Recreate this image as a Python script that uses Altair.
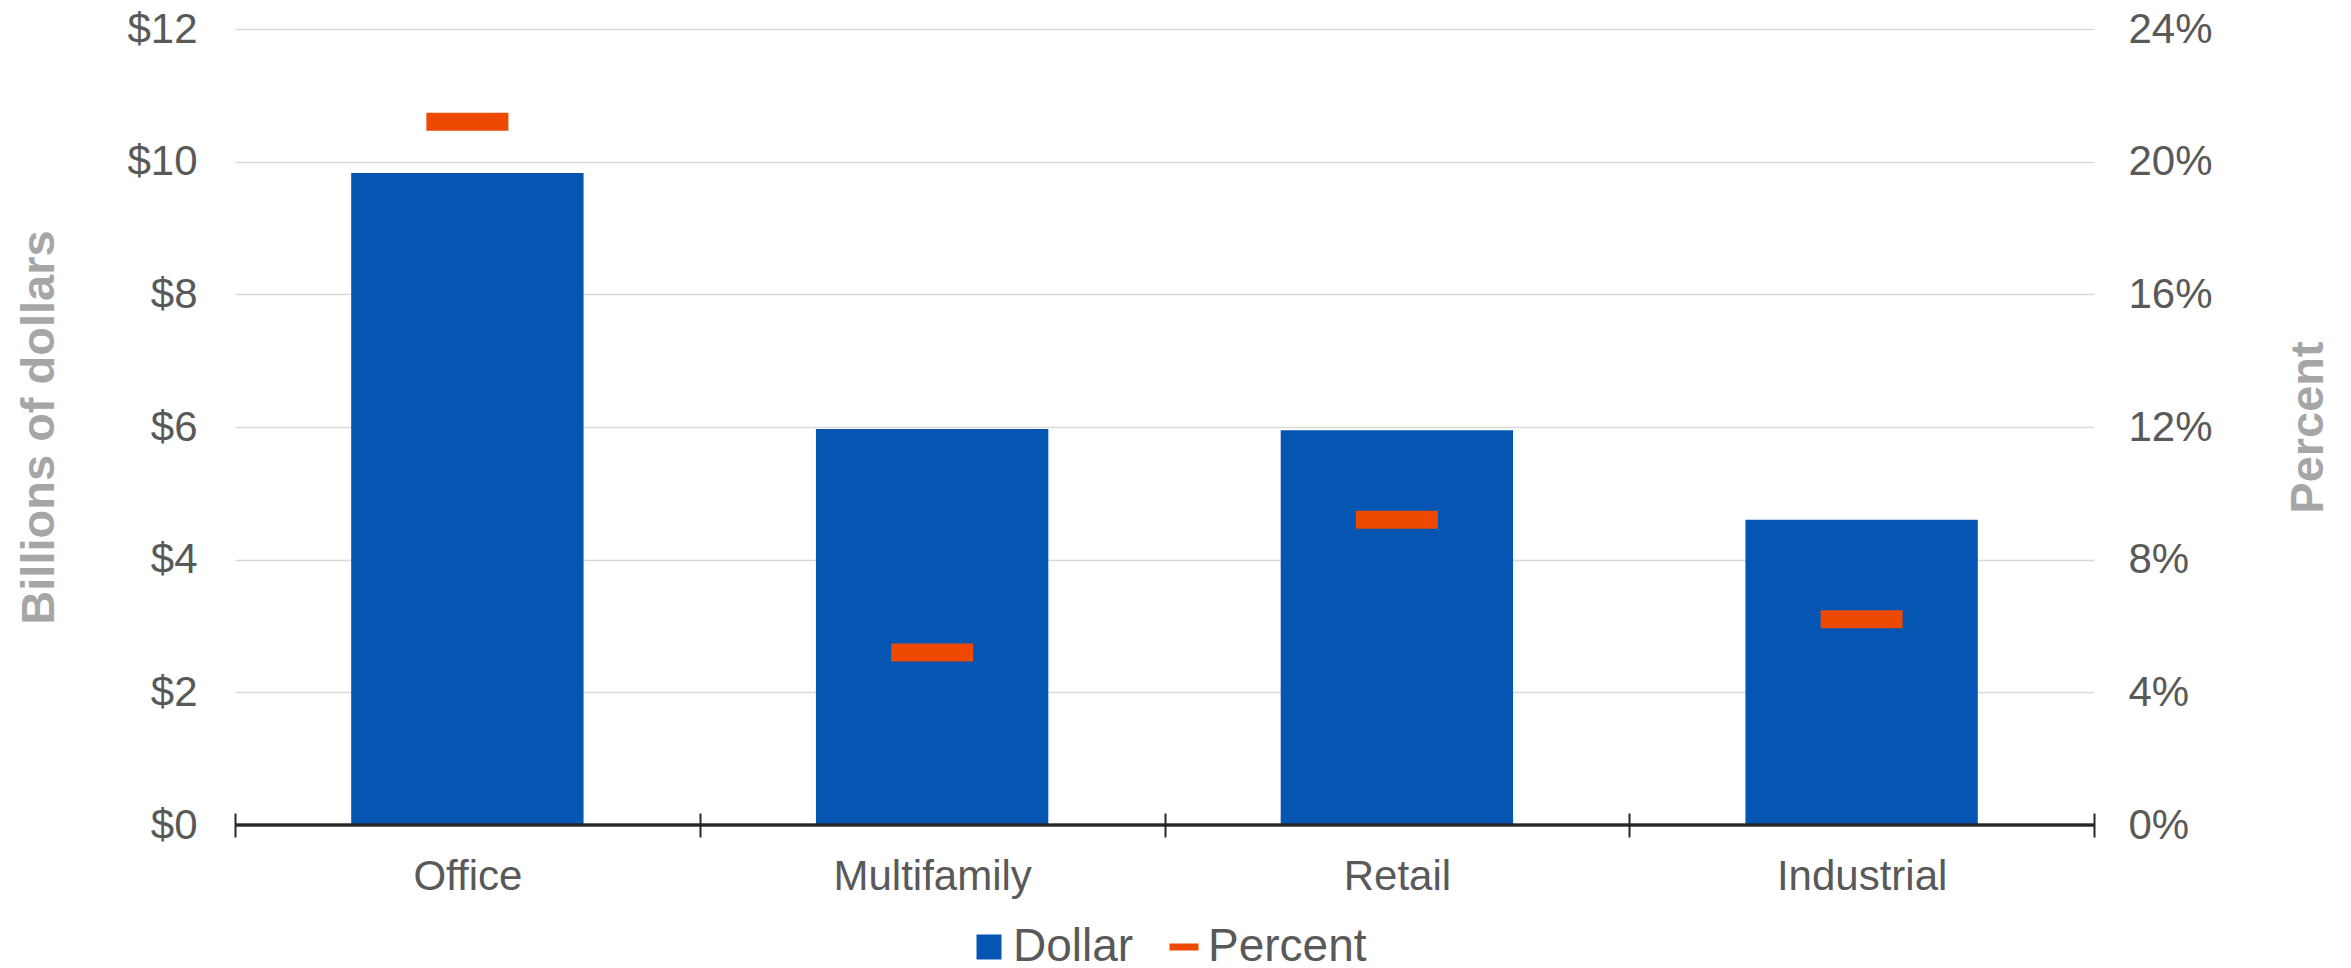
import altair as alt
import pandas as pd

# ---- data ----
categories = ["Office", "Multifamily", "Retail", "Industrial"]
dollar_billions = [9.83, 5.97, 5.95, 4.60]
percent_values = [21.2, 5.2, 9.2, 6.2]
series_names = ["Dollar", "Percent"]
dollar_ticks = [0, 2, 4, 6, 8, 10, 12]
percent_ticks = [0, 4, 8, 12, 16, 20, 24]

BLUE = "#0556B3"
ORANGE = "#EE4900"
FONT = "Liberation Sans"
LABEL_COLOR = "#595959"
TITLE_COLOR = "#A6A6A6"
AXIS_DARK = "#262626"

df = pd.DataFrame({"category": categories, "dollar": dollar_billions, "percent": percent_values})
legend_df = pd.DataFrame({"series": series_names})

x_enc = alt.X(
    "category:N",
    sort=categories,
    scale=alt.Scale(paddingInner=0, paddingOuter=0),
    axis=alt.Axis(
        title=None, labelAngle=0, domain=False, grid=False,
        offset=-12, tickSize=24, tickBand="extent", tickColor=AXIS_DARK, tickWidth=2,
        labelPadding=19, labelFont=FONT, labelFontSize=42, labelColor=LABEL_COLOR,
        labelLimit=500,
    ),
)

bars = alt.Chart(df).mark_bar(color=BLUE, width=alt.RelativeBandSize(0.5)).encode(
    x=x_enc,
    y=alt.Y(
        "dollar:Q",
        scale=alt.Scale(domain=[0, 12], nice=False),
        axis=alt.Axis(
            title="Billions of dollars", values=dollar_ticks,
            labelExpr="'$' + datum.value",
            domain=False, ticks=False, tickSize=0, labelPadding=38,
            grid=True, gridColor="#D9D9D9", gridWidth=1.7,
            labelFont=FONT, labelFontSize=42, labelColor=LABEL_COLOR,
            titleFont=FONT, titleFontSize=47, titleFontWeight="bold", titleColor=TITLE_COLOR,
            titleAngle=270, titleBaseline="bottom", titleX=-172,
        ),
    ),
)

baseline = alt.Chart(df).mark_rule(color=AXIS_DARK, strokeWidth=2.6).encode(
    x=alt.value(0), x2=alt.value("width"), y=alt.datum(0)
)

markers = alt.Chart(df).mark_tick(color=ORANGE, size=82, thickness=18, opacity=1).encode(
    x=x_enc,
    y=alt.Y(
        "percent:Q",
        scale=alt.Scale(domain=[0, 24], nice=False),
        axis=alt.Axis(
            orient="right", title="Percent", values=percent_ticks,
            labelExpr="datum.value + '%'",
            domain=False, ticks=False, tickSize=0, labelPadding=34, grid=False,
            labelFont=FONT, labelFontSize=42, labelColor=LABEL_COLOR,
            titleFont=FONT, titleFontSize=47, titleFontWeight="bold", titleColor=TITLE_COLOR,
            titleAngle=270, titleBaseline="bottom", titleX=238,
        ),
    ),
)

legend_def = alt.Legend(
    title=None, orient="none", direction="horizontal", legendX=731, legendY=895,
    labelFont=FONT, labelFontSize=46, labelColor=LABEL_COLOR, labelOffset=1,
    labelLimit=400, columnPadding=27, symbolSize=625, symbolStrokeWidth=0,
    symbolOpacity=1, padding=0,
)

legend_layer = alt.Chart(legend_df).mark_point(filled=True, opacity=1, size=625).encode(
    color=alt.Color("series:N", scale=alt.Scale(domain=series_names, range=[BLUE, ORANGE]), legend=legend_def),
    shape=alt.Shape(
        "series:N",
        scale=alt.Scale(domain=series_names, range=["square", "M-1.16,-0.28L1.16,-0.28L1.16,0.28L-1.16,0.28Z"]),
        legend=legend_def,
    ),
).transform_filter("false")

left = alt.layer(bars, baseline)
right = alt.layer(markers, legend_layer)

chart = (
    alt.layer(left, right)
    .resolve_scale(y="independent")
    .properties(
        width=1859, height=796,
        padding={"left": 235, "top": 29, "right": 257, "bottom": 143},
        autosize=alt.AutoSizeParams(type="none"),
        background="white",
    )
    .configure_view(stroke=None)
)

chart.save("out.html", embed_options={"renderer": "svg", "actions": False})
